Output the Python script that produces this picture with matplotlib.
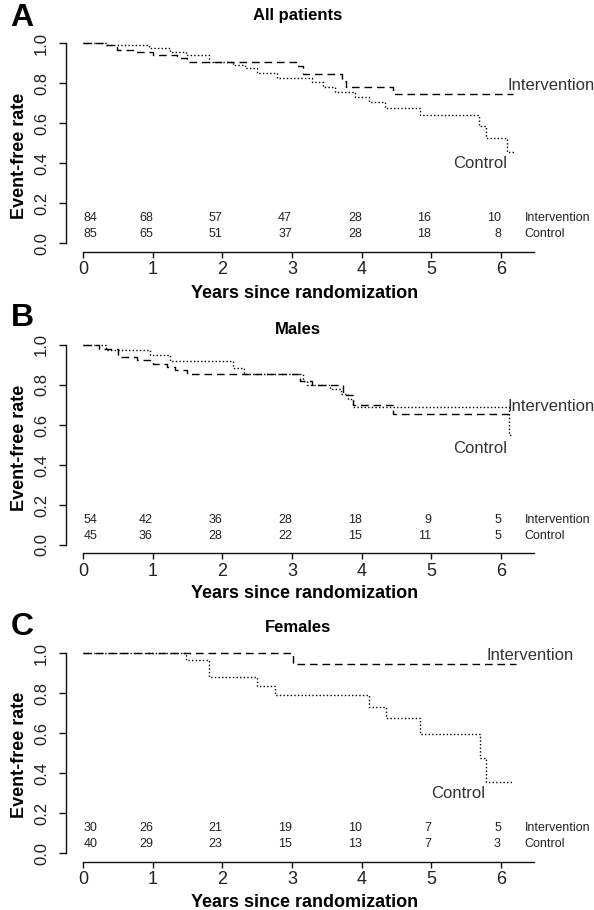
import matplotlib
matplotlib.use("Agg")
import matplotlib.pyplot as plt

plt.rcParams['font.family'] = ['Liberation Sans', 'DejaVu Sans']

# ---------------- data ----------------
panel_letters = ["A", "B", "C"]
panel_titles = ["All patients", "Males", "Females"]
x_ticks = [0, 1, 2, 3, 4, 5, 6]
y_ticks = [0.0, 0.2, 0.4, 0.6, 0.8, 1.0]
y_tick_labels = ["0.0", "0.2", "0.4", "0.6", "0.8", "1.0"]
group_names = ["Intervention", "Control"]

# Panel A - all patients
a_int_t = [0, 0.29, 0.48, 0.75, 1.00, 1.34, 1.49, 3.05, 3.15, 3.72, 3.78, 4.45]
a_int_s = [1.0, 0.99, 0.967, 0.955, 0.94, 0.925, 0.907, 0.885, 0.848, 0.81, 0.783, 0.745]
a_int_end = 6.18
a_ctl_t = [0, 0.33, 0.95, 1.25, 1.47, 1.80, 2.15, 2.33, 2.49, 2.78, 3.28, 3.45, 3.62,
           3.91, 4.10, 4.34, 4.84, 5.69, 5.79, 6.09]
a_ctl_s = [1.0, 0.99, 0.975, 0.955, 0.942, 0.907, 0.893, 0.878, 0.85, 0.828, 0.808, 0.78,
           0.758, 0.733, 0.708, 0.678, 0.643, 0.585, 0.527, 0.458]
a_ctl_end = 6.20
a_risk_int = [84, 68, 57, 47, 28, 16, 10]
a_risk_ctl = [85, 65, 51, 37, 28, 18, 8]

# Panel B - males
b_int_t = [0, 0.22, 0.50, 0.77, 1.00, 1.20, 1.32, 1.49, 3.11, 3.28, 3.73, 3.88, 4.45]
b_int_s = [1.0, 0.98, 0.94, 0.925, 0.905, 0.89, 0.875, 0.853, 0.82, 0.80, 0.75, 0.70, 0.655]
b_int_end = 6.18
b_ctl_t = [0, 0.33, 0.96, 1.25, 2.15, 2.31, 3.16, 3.22, 3.55, 3.70, 3.80, 3.88, 6.12]
b_ctl_s = [1.0, 0.975, 0.95, 0.92, 0.885, 0.853, 0.82, 0.80, 0.78, 0.755, 0.73, 0.69, 0.55]
b_ctl_end = 6.18
b_risk_int = [54, 42, 36, 28, 18, 9, 5]
b_risk_ctl = [45, 36, 28, 22, 15, 11, 5]

# Panel C - females
c_int_t = [0, 3.02]
c_int_s = [1.0, 0.947]
c_int_end = 6.21
c_ctl_t = [0, 1.48, 1.80, 2.50, 2.76, 4.10, 4.35, 4.84, 5.70, 5.79]
c_ctl_s = [1.0, 0.967, 0.883, 0.838, 0.79, 0.733, 0.675, 0.595, 0.475, 0.358]
c_ctl_end = 6.18
c_risk_int = [30, 26, 21, 19, 10, 7, 5]
c_risk_ctl = [40, 29, 23, 15, 13, 7, 3]

# curve label positions (data coords)
label_pos = [
    {"int": (6.09, 0.787, "left"), "ctl": (5.70, 0.40, "center")},
    {"int": (6.09, 0.695, "left"), "ctl": (5.70, 0.483, "center")},
    {"int": (5.79, 0.99, "left"), "ctl": (5.39, 0.30, "center")},
]

panels = [
    (a_int_t, a_int_s, a_int_end, a_ctl_t, a_ctl_s, a_ctl_end, a_risk_int, a_risk_ctl),
    (b_int_t, b_int_s, b_int_end, b_ctl_t, b_ctl_s, b_ctl_end, b_risk_int, b_risk_ctl),
    (c_int_t, c_int_s, c_int_end, c_ctl_t, c_ctl_s, c_ctl_end, c_risk_int, c_risk_ctl),
]

# ---------------- layout (pixels) ----------------
W, H = 594, 910
fig = plt.figure(figsize=(W / 100, H / 100), dpi=100)

X0PX = 83.3        # pixel of x = 0
PX_PER_YEAR = 69.6
PX_PER_UNIT = 200.0
XMIN, XMAX = -0.25, 6.45
YMIN, YMAX = -0.042, 1.04

y0_px = [243.3, 545.0, 853.3]
title_y = [15.5, 329.0, 627.0]
letter_y = [18.0, 317.5, 627.0]
xlabel_y = [293.0, 593.0, 902.5]
ylabel_y = [156.0, 448.0, 755.0]

TXT = "#222222"

for i, (it, isv, iend, ct, cs, cend, rint, rctl) in enumerate(panels):
    y0 = y0_px[i]
    left_px = X0PX + XMIN * PX_PER_YEAR
    right_px = X0PX + XMAX * PX_PER_YEAR
    top_px = y0 - YMAX * PX_PER_UNIT
    bot_px = y0 - YMIN * PX_PER_UNIT
    ax = fig.add_axes([left_px / W, 1 - bot_px / H,
                       (right_px - left_px) / W, (bot_px - top_px) / H])
    ax.set_xlim(XMIN, XMAX)
    ax.set_ylim(YMIN, YMAX)
    ax.patch.set_alpha(0)

    ax.step(list(it) + [iend], list(isv) + [isv[-1]], where='post',
            color='black', lw=1.0, linestyle=(0, (5.5, 3.5)), clip_on=False)
    ax.step(list(ct) + [cend], list(cs) + [cs[-1]], where='post',
            color='black', lw=1.0, linestyle=(0, (1.0, 1.6)), clip_on=False)

    for side in ['top', 'right']:
        ax.spines[side].set_visible(False)
    ax.spines['left'].set_bounds(0, 1)
    ax.spines['bottom'].set_bounds(0, 6.47)
    for side in ['left', 'bottom']:
        ax.spines[side].set_linewidth(1.0)
        ax.spines[side].set_color('#111111')

    ax.set_xticks(x_ticks)
    ax.set_xticklabels([str(v) for v in x_ticks])
    ax.set_yticks(y_ticks)
    ax.set_yticklabels(y_tick_labels)
    ax.tick_params(axis='x', length=4, width=1.0, pad=3, labelsize=13,
                   labelcolor=TXT, color='#111111')
    ax.tick_params(axis='y', length=5, width=1.0, pad=7, labelsize=12,
                   labelcolor=TXT, color='#111111')
    for lbl in ax.get_yticklabels():
        lbl.set_rotation(90)
        lbl.set_va('center')

    # numbers at risk
    for j, xv in enumerate(x_ticks):
        ha = 'left' if j == 0 else 'right'
        ax.text(xv, 0.125, str(rint[j]), ha=ha, va='center', fontsize=9, color=TXT)
        ax.text(xv, 0.047, str(rctl[j]), ha=ha, va='center', fontsize=9, color=TXT)
    ax.text(6.34, 0.125, group_names[0], ha='left', va='center', fontsize=9, color=TXT)
    ax.text(6.34, 0.047, group_names[1], ha='left', va='center', fontsize=9, color=TXT)

    # curve labels
    lp = label_pos[i]
    x, y, ha = lp["int"]
    ax.text(x, y, group_names[0], ha=ha, va='center', fontsize=12, color='#333333')
    x, y, ha = lp["ctl"]
    ax.text(x, y, group_names[1], ha=ha, va='center', fontsize=12, color='#333333')

    # titles / labels
    fig.text(298 / W, 1 - title_y[i] / H, panel_titles[i], ha='center', va='center',
             fontsize=12, fontweight='bold', color='black')
    fig.text(22 / W, 1 - letter_y[i] / H, panel_letters[i], ha='center', va='center',
             fontsize=23, fontweight='bold', color='black')
    fig.text(305 / W, 1 - xlabel_y[i] / H, "Years since randomization", ha='center',
             va='center', fontsize=13, fontweight='bold', color='black')
    fig.text(20 / W, 1 - ylabel_y[i] / H, "Event-free rate", ha='center', va='center',
             rotation=90, fontsize=13, fontweight='bold', color='black')

fig.savefig("out.png", dpi=100)
